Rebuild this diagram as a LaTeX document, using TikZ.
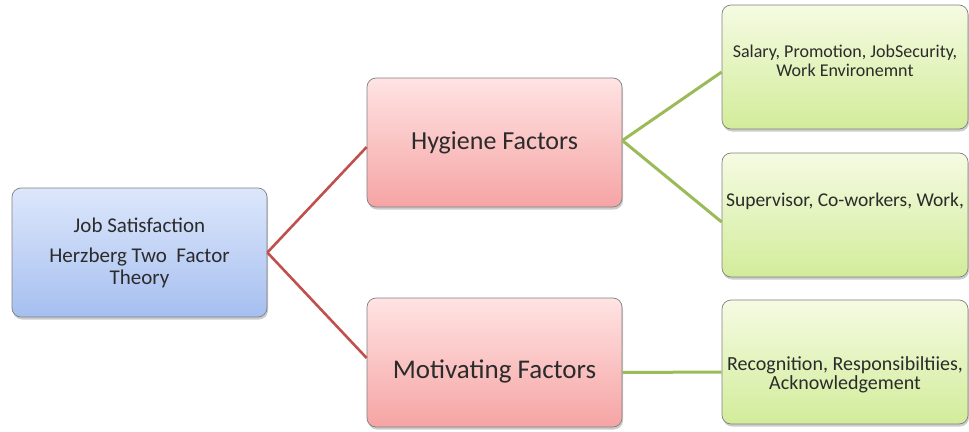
\documentclass[tikz,border=0pt]{standalone}
\usepackage{fontspec}
\setmainfont{Carlito}
\usetikzlibrary{shadows}
\definecolor{JobTop}{HTML}{DDE7FB}
\definecolor{JobBottom}{HTML}{A6BFF0}
\definecolor{FactorTop}{HTML}{FFE3E3}
\definecolor{FactorBottom}{HTML}{F6A4A4}
\definecolor{ItemTop}{HTML}{F5FBE2}
\definecolor{ItemBottom}{HTML}{D2EC9A}
\definecolor{FactorLine}{HTML}{C0504D}
\definecolor{ItemLine}{HTML}{9BBB59}
\definecolor{HzText}{HTML}{2B2B2B}
% lower (or raise) a block of text inside its box
\newcommand{\hzshift}[2]{\raisebox{#1}[\height][\depth]{%
  \begin{tabular}{@{}c@{}}#2\end{tabular}}}

\begin{document}
\begin{tikzpicture}[x=1pt,y=-1pt]
  \tikzstyle{hzbox}=[rounded corners=9pt,draw=black!50,line width=0.7pt,
    align=center,text=HzText,
    drop shadow={shadow xshift=1pt,shadow yshift=-2.5pt,opacity=0.4}]
  \tikzstyle{jobbox}=[hzbox,top color=JobTop,bottom color=JobBottom,
    minimum width=255pt,minimum height=129pt,
    font=\fontsize{21}{22}\selectfont]
  \tikzstyle{factorbox}=[hzbox,top color=FactorTop,bottom color=FactorBottom,
    minimum width=255pt,minimum height=129pt,
    font=\fontsize{26}{28}\selectfont]
  \tikzstyle{itembox}=[hzbox,top color=ItemTop,bottom color=ItemBottom,
    minimum width=246pt,minimum height=124pt,
    font=\fontsize{19.5}{19.5}\selectfont]
  \tikzstyle{factorlink}=[draw=FactorLine,line width=2.6pt]
  \tikzstyle{itemlink}=[draw=ItemLine,line width=3pt]
  \useasboundingbox (0,0) rectangle (969,431);
  \node[jobbox] (job) at (139.5,252.5)
    {Job Satisfaction\\[8pt]Herzberg Two\ \ Factor\\Theory};
  \node[factorbox] (hyg) at (494.5,142.5) {Hygiene Factors};
  \node[factorbox,font=\fontsize{27}{28}\selectfont] (mot) at (494.5,362.5)
    {\hzshift{-10pt}{Motivating Factors}};
  \node[itembox,font=\fontsize{18}{19}\selectfont] (pay) at (845,67)
    {\hzshift{4pt}{Salary, Promotion, JobSecurity,\\Work Environemnt}};
  \node[itembox] (peer) at (845,215)
    {\hzshift{12pt}{Supervisor, Co-workers, Work,}};
  \node[itembox,font=\fontsize{20}{19}\selectfont] (merit) at (845,362)
    {\hzshift{-14pt}{Recognition, Responsibiltiies,\\Acknowledgement}};
  \draw[factorlink] (job.east) -- ([yshift=-4.5pt]hyg.west);
  \draw[factorlink] (job.east) -- ([yshift=4.5pt]mot.west);
  \draw[itemlink] ([yshift=2pt]hyg.east) -- ([yshift=-5pt]pay.west);
  \draw[itemlink] ([yshift=2pt]hyg.east) -- ([yshift=-7pt]peer.west);
  \draw[itemlink] ([yshift=-10pt]mot.east) -- ([yshift=-10pt]merit.west);
\end{tikzpicture}
\end{document}
